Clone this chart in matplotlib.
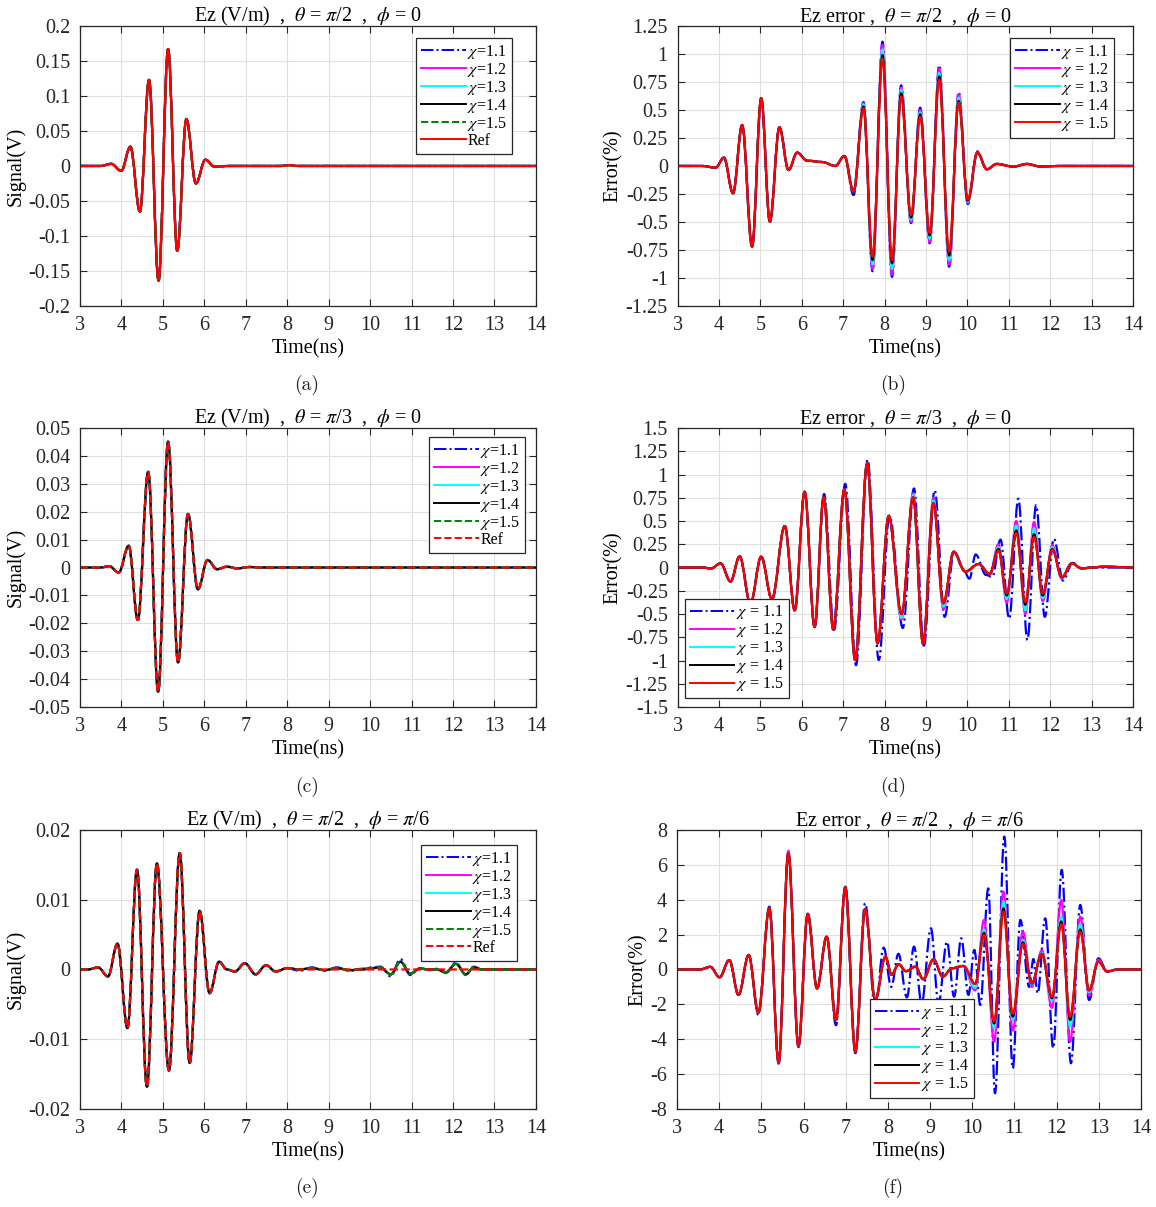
import matplotlib
matplotlib.use('Agg')
import matplotlib.pyplot as plt
from matplotlib.ticker import FuncFormatter, MultipleLocator
from matplotlib.path import Path
from matplotlib.patches import PathPatch

plt.rcParams['font.family'] = 'serif'
plt.rcParams['font.serif'] = ['Liberation Serif', 'DejaVu Serif']
plt.rcParams['mathtext.fontset'] = 'stix'
plt.rcParams['axes.unicode_minus'] = False

# ---- data (extrema) ----
chi_labels = ['1.1', '1.2', '1.3', '1.4', '1.5']

# (a) Ez signal, theta=pi/2, phi=0
a_t = [3.0, 3.5, 3.76, 4.00, 4.22, 4.45, 4.67, 4.90, 5.13, 5.35, 5.57, 5.80, 6.03, 6.25, 6.6, 7.85, 8.05, 8.25, 14.0]
a_v = [0, 0, 0.003, -0.007, 0.0276, -0.065, 0.123, -0.164, 0.167, -0.121, 0.067, -0.025, 0.009, -0.001, 0, 0, 0.0012, 0, 0]

# (b) Ez error, theta=pi/2, phi=0
b_t = [3.0, 3.6, 3.92, 4.12, 4.34, 4.56, 4.80, 5.02, 5.23, 5.46, 5.68, 5.89, 6.13, 6.5, 6.81, 7.03, 7.25, 7.49,
       7.71, 7.95, 8.18, 8.40, 8.64, 8.86, 9.09, 9.32, 9.56, 9.79, 10.01, 10.24, 10.47, 10.71, 11.11, 11.44, 11.76, 12.2, 14.0]
b_red = [0, 0, -0.015, 0.074, -0.244, 0.366, -0.72, 0.604, -0.497, 0.345, -0.036, 0.119, 0.047, 0.035, 0.0, 0.089,
         -0.229, 0.515, -0.81, 0.96, -0.84, 0.62, -0.44, 0.44, -0.60, 0.77, -0.765, 0.565, -0.30, 0.12, -0.03, 0.018,
         -0.006, 0.018, -0.005, 0, 0]
b_blue = {7.25: -0.26, 7.49: 0.57, 7.71: -0.94, 7.95: 1.11, 8.18: -0.99, 8.40: 0.72, 8.64: -0.51, 8.86: 0.52,
          9.09: -0.69, 9.32: 0.90, 9.56: -0.90, 9.79: 0.66, 10.01: -0.34, 10.24: 0.13}
b_mag = {7.49: 0.56, 7.71: -0.92, 7.95: 1.08, 8.18: -0.97, 8.40: 0.70, 8.64: -0.50, 8.86: 0.50,
         9.09: -0.68, 9.32: 0.87, 9.56: -0.88, 9.79: 0.64, 10.01: -0.33}
b_cyan = {7.49: 0.55, 7.71: -0.88, 7.95: 1.04, 8.18: -0.92, 8.40: 0.68, 8.64: -0.48, 8.86: 0.48,
          9.09: -0.65, 9.32: 0.83, 9.56: -0.84, 9.79: 0.61, 10.01: -0.32}
b_black = {7.49: 0.53, 7.71: -0.84, 7.95: 0.99, 8.18: -0.87, 8.40: 0.65, 8.64: -0.46, 8.86: 0.46,
           9.09: -0.62, 9.32: 0.80, 9.56: -0.80, 9.79: 0.58, 10.01: -0.31}

# (c) Ez signal, theta=pi/3, phi=0
c_t = [3.0, 3.5, 3.71, 3.94, 4.18, 4.40, 4.65, 4.89, 5.13, 5.37, 5.61, 5.85, 6.08, 6.31, 6.55, 6.8, 7.1, 7.4, 14.0]
c_v = [0, 0, 0.0005, -0.0018, 0.0078, -0.0188, 0.0343, -0.0445, 0.0451, -0.034, 0.0192, -0.0078, 0.0027, -0.0006,
       0.0003, -0.0003, 0.0002, 0, 0]

# (d) Ez error, theta=pi/3, phi=0
d_t = [3.0, 3.6, 3.81, 4.04, 4.28, 4.50, 4.76, 5.02, 5.28, 5.59, 5.83, 6.07, 6.31, 6.53, 6.76, 7.03, 7.29, 7.58,
       7.83, 8.10, 8.41, 8.69, 8.93, 9.18, 9.42, 9.67, 9.95, 10.27, 10.54, 10.75, 10.95, 11.18, 11.40, 11.61,
       11.82, 12.05, 12.28, 12.52, 12.76, 13.0, 13.3, 14.0]
d_red = [0, 0, -0.01, 0.045, -0.15, 0.12, -0.39, 0.116, -0.34, 0.446, -0.46, 0.815, -0.64, 0.755, -0.665, 0.84,
         -0.995, 1.12, -0.815, 0.554, -0.50, 0.755, -0.82, 0.69, -0.385, 0.17, -0.045, 0.038, -0.07, 0.18, -0.28,
         0.37, -0.37, 0.33, -0.28, 0.195, -0.105, 0.045, -0.01, 0.0, 0.01, 0]
d_blue_t = [3.0, 3.6, 3.81, 4.04, 4.28, 4.50, 4.76, 5.02, 5.28, 5.59, 5.83, 6.07, 6.31, 6.54, 6.78, 7.05, 7.31, 7.59,
            7.86, 8.12, 8.44, 8.71, 8.95, 9.21, 9.45, 9.68, 9.90, 10.05, 10.20, 10.45, 10.60, 10.80, 11.01, 11.23,
            11.45, 11.66, 11.87, 12.09, 12.31, 12.54, 12.78, 13.0, 14.0]
d_blue = [0, 0, -0.01, 0.045, -0.15, 0.12, -0.39, 0.116, -0.34, 0.446, -0.46, 0.815, -0.64, 0.79, -0.67, 0.90,
          -1.05, 1.16, -0.995, 0.56, -0.65, 0.85, -0.84, 0.83, -0.53, 0.17, -0.02, -0.12, 0.14, -0.08, -0.10, 0.30,
          -0.55, 0.74, -0.78, 0.67, -0.53, 0.31, -0.14, 0.05, -0.01, 0, 0]
d_mag = {8.41: -0.56, 8.69: 0.80, 9.18: 0.75, 9.42: -0.45, 10.75: 0.25, 10.95: -0.38, 11.18: 0.50, 11.40: -0.50,
         11.61: 0.49, 11.82: -0.36, 12.05: 0.24, 12.28: -0.12}
d_cyan = {8.41: -0.54, 8.69: 0.78, 9.18: 0.72, 9.42: -0.42, 10.75: 0.22, 10.95: -0.34, 11.18: 0.45, 11.40: -0.46,
          11.61: 0.42, 11.82: -0.33, 12.05: 0.22, 12.28: -0.11}
d_black = {10.75: 0.20, 10.95: -0.30, 11.18: 0.40, 11.40: -0.40, 11.61: 0.36, 11.82: -0.30, 12.05: 0.20}

# (e) Ez signal, theta=pi/2, phi=pi/6
e_t = [3.0, 3.2, 3.44, 3.68, 3.91, 4.15, 4.38, 4.62, 4.86, 5.15, 5.41, 5.65, 5.89, 6.13, 6.36, 6.55, 6.74, 6.98,
       7.24, 7.49, 7.73, 8.0, 8.3, 8.6, 8.9, 9.2, 9.5, 9.8, 10.05, 10.25, 10.5, 10.73, 10.97, 11.2, 11.45, 11.6,
       11.83, 12.07, 12.31, 12.5, 12.7, 14.0]
e_ref = [0, 0, 0.0003, -0.001, 0.0037, -0.0084, 0.0143, -0.0168, 0.0152, -0.0145, 0.0167, -0.0134, 0.0084, -0.0034,
         0.0011, 0.0, -0.0003, 0.0009, -0.0007, 0.0006, -0.0003, 0.0002, 0, 0, 0, 0, 0, 0, 0, 0, 0, 0, 0, 0, 0, 0,
         0, 0, 0, 0, 0, 0]
e_chi = [0, 0, 0.0003, -0.001, 0.0037, -0.0084, 0.0143, -0.0168, 0.0152, -0.0145, 0.0167, -0.0134, 0.0084, -0.0034,
         0.0011, 0.0, -0.0003, 0.0009, -0.0007, 0.0006, -0.0003, 0.0002, 0.0, 0.0002, -0.0001, 0.0002, -0.0001, 0.0,
         0.0002, 0.0003, -0.0007, 0.0011, -0.0006, 0.0001, 0.0, 0.0, -0.0004, 0.0008, -0.0007, 0.0003, 0, 0]
e_blue = [0, 0, 0.0003, -0.001, 0.0037, -0.0084, 0.0143, -0.0168, 0.0152, -0.0145, 0.0167, -0.0134, 0.0084, -0.0034,
          0.0011, 0.0, -0.0003, 0.0009, -0.0007, 0.0006, -0.0003, 0.0002, -0.0002, 0.0003, -0.0002, 0.0003, -0.0002,
          0.0001, 0.0003, 0.0004, -0.0010, 0.0015, -0.0008, 0.0002, -0.0001, 0.0001, -0.0005, 0.0010, -0.0008,
          0.0004, 0, 0]

# (f) Ez error, theta=pi/2, phi=pi/6
f_t = [3.0, 3.55, 3.79, 4.01, 4.24, 4.46, 4.70, 4.93, 5.19, 5.41, 5.64, 5.88, 6.10, 6.32, 6.55, 6.77, 6.99, 7.23,
       7.46, 7.70, 7.94, 8.09, 8.25, 8.43, 8.65, 8.84, 9.08, 9.30, 9.52, 9.79, 10.07, 10.28, 10.52, 10.74, 10.96,
       11.20, 11.41, 11.65, 11.89, 12.11, 12.32, 12.56, 12.77, 12.99, 13.20, 13.45, 14.0]
f_red = [0, 0, 0.15, -0.45, 0.54, -1.46, 0.83, -2.48, 3.51, -5.34, 6.66, -4.39, 3.18, -1.08, 1.88, -2.9, 4.71, -4.71,
         3.45, -1.75, 0.73, -0.31, 0.3, -0.1, 0.16, -0.56, 0.58, -0.41, 0.07, 0.2, -0.83, 1.98, -2.99, 3.32, -2.55,
         1.46, -0.79, 0.89, -1.56, 2.61, -2.71, 2.17, -1.18, 0.45, -0.12, 0.0, 0]
f_blue_t = [3.0, 3.55, 3.79, 4.01, 4.24, 4.46, 4.70, 4.93, 5.19, 5.41, 5.64, 5.88, 6.10, 6.32, 6.55, 6.77, 6.99,
            7.23, 7.46, 7.70, 7.90, 8.08, 8.25, 8.45, 8.62, 8.80, 9.02, 9.20, 9.40, 9.57, 9.74, 9.91, 10.05, 10.19,
            10.38, 10.54, 10.76, 10.96, 11.14, 11.35, 11.45, 11.55, 11.73, 11.92, 12.12, 12.34, 12.56, 12.77,
            12.99, 13.20, 13.45, 14.0]
f_blue = [0, 0, 0.15, -0.45, 0.54, -1.46, 0.83, -2.6, 3.6, -5.4, 6.7, -4.45, 3.2, -1.1, 1.9, -3.2, 4.75, -4.8, 3.8,
          -2.3, 1.25, -1.0, 0.9, -1.6, 1.31, -1.94, 2.36, -1.94, 1.59, -1.56, 1.79, -1.46, 1.12, -2.04, 4.65, -7.1,
          7.62, -5.67, 2.84, -1.0, 0.6, -1.37, 2.93, -4.52, 5.71, -5.38, 3.7, -1.75, 0.64, -0.1, 0.0, 0]
f_mag = {5.64: 6.8, 10.07: -1.2, 10.28: 2.84, 10.52: -4.14, 10.74: 4.46, 10.96: -3.5, 11.20: 2.17, 11.41: -1.0,
         11.65: 1.1, 11.89: -2.2, 12.11: 3.98, 12.32: -4.14, 12.56: 3.03, 12.77: -1.5, 12.99: 0.55}
f_cyan = {10.07: -1.05, 10.28: 2.3, 10.52: -3.37, 10.74: 3.9, 10.96: -2.9, 11.20: 1.7, 11.41: -0.85, 11.65: 0.95,
          11.89: -1.8, 12.11: 3.03, 12.32: -3.3, 12.56: 2.6, 12.77: -1.3}
f_black = {10.28: 2.1, 10.52: -3.1, 10.74: 3.5, 10.96: -2.7, 11.20: 1.55, 11.41: -0.8, 11.65: 0.9, 11.89: -1.65,
           12.11: 2.75, 12.32: -2.9, 12.56: 2.3, 12.77: -1.2}

titles = [r'Ez (V/m)  ,  $\theta$ = $\pi$/2  ,  $\phi$ = 0',
          r'Ez error ,  $\theta$ = $\pi$/2  ,  $\phi$ = 0',
          r'Ez (V/m)  ,  $\theta$ = $\pi$/3  ,  $\phi$ = 0',
          r'Ez error ,  $\theta$ = $\pi$/3  ,  $\phi$ = 0',
          r'Ez (V/m)  ,  $\theta$ = $\pi$/2  ,  $\phi$ = $\pi$/6',
          r'Ez error ,  $\theta$ = $\pi$/2  ,  $\phi$ = $\pi$/6']
captions = ['(a)', '(b)', '(c)', '(d)', '(e)', '(f)']

DARK = '#262626'
FS = 14.5


def with_over(times, base, over):
    vals = list(base)
    for t, v in over.items():
        vals[times.index(t)] = v
    return vals


# draw waveform through the extrema as smooth bezier segments (flat at each extremum)
def wave(ax, t, v, color, ls, label):
    verts = [(t[0], v[0])]
    codes = [Path.MOVETO]
    for i in range(1, len(t)):
        d = (t[i] - t[i - 1]) * 0.3642
        verts += [(t[i - 1] + d, v[i - 1]), (t[i] - d, v[i]), (t[i], v[i])]
        codes += [Path.CURVE4] * 3
    ax.add_patch(PathPatch(Path(verts, codes), fill=False, edgecolor=color, ls=ls, lw=1.6,
                           capstyle='butt', joinstyle='round'))
    ax.plot([], [], color=color, ls=ls, lw=1.4, label=label)


def style(ax, ylo, yhi, ystep, ylabel, title):
    ax.set_xlim(3, 14)
    ax.set_ylim(ylo, yhi)
    ax.xaxis.set_major_locator(MultipleLocator(1))
    ax.yaxis.set_major_locator(MultipleLocator(ystep))
    ax.yaxis.set_major_formatter(FuncFormatter(lambda v, p: '%g' % (round(v, 4) + 0.0)))
    ax.grid(True, color='#dfdfdf', lw=0.8)
    ax.set_axisbelow(True)
    ax.tick_params(direction='in', top=True, right=True, length=5, width=0.8, colors=DARK,
                   labelsize=FS, pad=7)
    for s in ax.spines.values():
        s.set_color(DARK)
        s.set_linewidth(0.9)
    ax.set_xlabel('Time(ns)', fontsize=FS, labelpad=3)
    ax.set_ylabel(ylabel, fontsize=FS, labelpad=2)
    ax.set_title(title, fontsize=FS, pad=3)


def legend(ax, loc, anchor):
    lg = ax.legend(loc=loc, bbox_to_anchor=anchor, borderaxespad=0, fontsize=11.5, handlelength=2.8,
                   labelspacing=0.0, handletextpad=0.1, borderpad=0.3, fancybox=False, framealpha=1,
                   edgecolor=DARK)
    lg.get_frame().set_linewidth(0.9)
    return lg


fig = plt.figure(figsize=(11.56, 12.07), dpi=100)
rects = [[0.0690, 0.7465, 0.3946, 0.2320], [0.5861, 0.7465, 0.3940, 0.2320],
         [0.0690, 0.4142, 0.3946, 0.2312], [0.5861, 0.4142, 0.3940, 0.2312],
         [0.0690, 0.0812, 0.3946, 0.2312], [0.5856, 0.0812, 0.4014, 0.2312]]
axs = [fig.add_axes(r) for r in rects]

sig_colors = ['b', 'magenta', 'cyan', 'k', 'g']
sig_styles = ['-.', '-', '-', '-', '--']

# (a)
ax = axs[0]
for c, ls, lab in zip(sig_colors, sig_styles, chi_labels):
    wave(ax, a_t, a_v, c, ls, r'$\chi$=' + lab)
wave(ax, a_t, a_v, 'r', '-', 'Ref')
style(ax, -0.2, 0.2, 0.05, 'Signal(V)', titles[0])
legend(ax, 'upper right', (0.947, 0.957))

# (c)
ax = axs[2]
for c, ls, lab in zip(sig_colors, sig_styles, chi_labels):
    wave(ax, c_t, c_v, c, ls, r'$\chi$=' + lab)
wave(ax, c_t, c_v, 'r', '--', 'Ref')
style(ax, -0.05, 0.05, 0.01, 'Signal(V)', titles[2])
legend(ax, 'upper right', (0.976, 0.968))

# (e)
ax = axs[4]
wave(ax, e_t, e_blue, 'b', '-.', r'$\chi$=1.1')
for c, ls, lab in zip(sig_colors[1:], sig_styles[1:], chi_labels[1:]):
    wave(ax, e_t, e_chi, c, ls, r'$\chi$=' + lab)
wave(ax, e_t, e_ref, 'r', '--', 'Ref')
style(ax, -0.02, 0.02, 0.01, 'Signal(V)', titles[4])
legend(ax, 'upper right', (0.958, 0.946))

err_colors = ['b', 'magenta', 'cyan', 'k', 'r']
err_styles = ['-.', '-', '-', '-', '-']

# (b)
ax = axs[1]
b_series = [(b_t, with_over(b_t, b_red, b_blue)), (b_t, with_over(b_t, b_red, b_mag)),
            (b_t, with_over(b_t, b_red, b_cyan)), (b_t, with_over(b_t, b_red, b_black)), (b_t, b_red)]
for (tt, vv), c, ls, lab in zip(b_series, err_colors, err_styles, chi_labels):
    wave(ax, tt, vv, c, ls, r'$\chi$ = ' + lab)
style(ax, -1.25, 1.25, 0.25, 'Error(%)', titles[1])
legend(ax, 'upper right', (0.958, 0.957))

# (d)
ax = axs[3]
d_series = [(d_blue_t, d_blue), (d_t, with_over(d_t, d_red, d_mag)), (d_t, with_over(d_t, d_red, d_cyan)),
            (d_t, with_over(d_t, d_red, d_black)), (d_t, d_red)]
for (tt, vv), c, ls, lab in zip(d_series, err_colors, err_styles, chi_labels):
    wave(ax, tt, vv, c, ls, r'$\chi$ = ' + lab)
style(ax, -1.5, 1.5, 0.25, 'Error(%)', titles[3])
legend(ax, 'lower left', (0.016, 0.032))

# (f)
ax = axs[5]
f_series = [(f_blue_t, f_blue), (f_t, with_over(f_t, f_red, f_mag)), (f_t, with_over(f_t, f_red, f_cyan)),
            (f_t, with_over(f_t, f_red, f_black)), (f_t, f_red)]
for (tt, vv), c, ls, lab in zip(f_series, err_colors, err_styles, chi_labels):
    wave(ax, tt, vv, c, ls, r'$\chi$ = ' + lab)
style(ax, -8, 8, 2, 'Error(%)', titles[5])
legend(ax, 'lower left', (0.416, 0.039))

cap_pos = [(307, 385), (893, 385), (307, 787), (893, 787), (307, 1188), (893, 1188)]
for cap, (x, y) in zip(captions, cap_pos):
    fig.text(x / 1156, 1 - y / 1207, cap, ha='center', va='center', fontsize=14,
             fontfamily='cmr10', color='#222222')

fig.savefig('out.png', dpi=100)
